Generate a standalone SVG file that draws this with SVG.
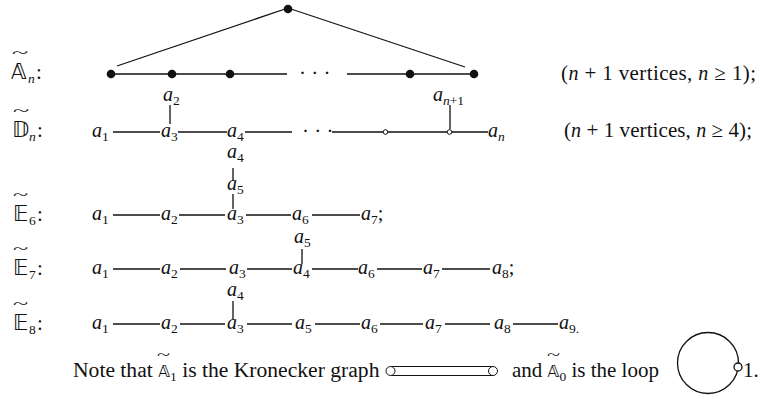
<svg xmlns="http://www.w3.org/2000/svg" width="758" height="395" viewBox="0 0 758 395">
<style>
text{font-family:"Liberation Serif","DejaVu Serif",serif;font-size:21px;fill:#111}
.v{font-style:italic;font-size:20px}
.s{font-size:13.5px;font-style:normal}
.si{font-size:13.5px;font-style:italic}
.ds{font-family:"DejaVu Sans","DejaVu Serif",serif;font-size:21px}
.dn{font-family:"DejaVu Sans","DejaVu Serif",serif;font-size:16px}
.tl{font-size:20px}
line{stroke:#111;stroke-width:1.3;fill:none}
.dot{fill:#111;stroke:none}
.oc{fill:#fff;stroke:#111;stroke-width:1}
</style>
<rect width="758" height="395" fill="#fff"/>

<!-- row labels -->
<g id="lab-A">
<text x="11" y="79" class="ds">𝔸</text><text transform="translate(12,58) scale(1.5,0.75)" class="tl">~</text><text x="28" y="83" class="si">n</text><text x="36" y="79">:</text>
</g>
<g id="lab-D">
<text x="12" y="137" class="ds">𝔻</text><text transform="translate(13,116) scale(1.5,0.75)" class="tl">~</text><text x="29" y="141" class="si">n</text><text x="37" y="137">:</text>
</g>
<g id="lab-E6">
<text x="13" y="221" class="ds">𝔼</text><text transform="translate(13,200) scale(1.4,0.75)" class="tl">~</text><text x="29" y="225" class="s">6</text><text x="37" y="221">:</text>
</g>
<g id="lab-E7">
<text x="13" y="275" class="ds">𝔼</text><text transform="translate(13,254) scale(1.4,0.75)" class="tl">~</text><text x="29" y="279" class="s">7</text><text x="37" y="275">:</text>
</g>
<g id="lab-E8">
<text x="13" y="330" class="ds">𝔼</text><text transform="translate(13,309) scale(1.4,0.75)" class="tl">~</text><text x="29" y="334" class="s">8</text><text x="37" y="330">:</text>
</g>

<!-- connectors -->
<g id="connectors">
<line x1="117" y1="66" x2="288" y2="8"/>
<line x1="288" y1="8" x2="465" y2="67"/>
<line x1="111" y1="74" x2="287" y2="74"/>
<line x1="347" y1="74" x2="474" y2="74"/>
<line x1="113" y1="132" x2="160" y2="132"/>
<line x1="178" y1="132" x2="227" y2="132"/>
<line x1="245" y1="132" x2="292" y2="132"/>
<line x1="332" y1="132" x2="383" y2="132"/>
<line x1="388" y1="132" x2="447" y2="132"/>
<line x1="452" y1="132" x2="488" y2="132"/>
<line x1="170" y1="105" x2="170" y2="124"/>
<line x1="450" y1="105" x2="450" y2="129"/>
<line x1="233" y1="168" x2="233" y2="181"/>
<line x1="233" y1="194" x2="233" y2="209"/>
<line x1="113" y1="215" x2="160" y2="215"/>
<line x1="179" y1="215" x2="225" y2="215"/>
<line x1="246" y1="215" x2="291" y2="215"/>
<line x1="312" y1="215" x2="360" y2="215"/>
<line x1="302" y1="249" x2="302" y2="264"/>
<line x1="113" y1="269" x2="160" y2="269"/>
<line x1="180" y1="269" x2="226" y2="269"/>
<line x1="247" y1="269" x2="292" y2="269"/>
<line x1="312" y1="269" x2="358" y2="269"/>
<line x1="377" y1="269" x2="422" y2="269"/>
<line x1="442" y1="269" x2="490" y2="269"/>
<line x1="233" y1="301" x2="233" y2="319"/>
<line x1="113" y1="324" x2="160" y2="324"/>
<line x1="180" y1="324" x2="225" y2="324"/>
<line x1="247" y1="324" x2="292" y2="324"/>
<line x1="315" y1="324" x2="360" y2="324"/>
<line x1="380" y1="324" x2="423" y2="324"/>
<line x1="445" y1="324" x2="490" y2="324"/>
<line x1="513" y1="324" x2="558" y2="324"/>
</g>

<!-- A_n nodes -->
<g id="A-top"><circle class="dot" cx="288" cy="9" r="4.3"/></g>
<g id="A-1"><circle class="dot" cx="111" cy="74" r="4.3"/></g>
<g id="A-2"><circle class="dot" cx="172" cy="74" r="4.3"/></g>
<g id="A-3"><circle class="dot" cx="230" cy="74" r="4.3"/></g>
<g id="A-dots"><text x="299" y="79.5">· · ·</text></g>
<g id="A-n"><circle class="dot" cx="410" cy="74" r="4.3"/></g>
<g id="A-n1"><circle class="dot" cx="474" cy="74" r="4.3"/></g>
<g id="A-note"><text x="561" y="80" textLength="195"><tspan>(</tspan><tspan class="v">n</tspan><tspan> + 1 vertices, </tspan><tspan class="v">n</tspan><tspan> ≥ 1);</tspan></text></g>

<!-- D_n nodes -->
<g id="D-a2"><text x="163" y="101" class="v">a<tspan class="s" dy="4">2</tspan></text></g>
<g id="D-an1"><text x="433" y="101" class="v">a<tspan class="si" dy="4">n</tspan><tspan class="s">+1</tspan></text></g>
<g id="D-a1"><text x="92" y="137" class="v">a<tspan class="s" dy="4">1</tspan></text></g>
<g id="D-a3"><text x="161" y="137" class="v">a<tspan class="s" dy="4">3</tspan></text></g>
<g id="D-a4"><text x="227" y="137" class="v">a<tspan class="s" dy="4">4</tspan></text></g>
<g id="D-dots"><text x="302" y="137.5">· · ·</text></g>
<g id="D-o1"><circle class="oc" cx="385.5" cy="132" r="2.3"/></g>
<g id="D-o2"><circle class="oc" cx="449.5" cy="132" r="2.3"/></g>
<g id="D-an"><text x="488" y="137" class="v">a<tspan class="si" dy="4">n</tspan></text></g>
<g id="D-note"><text x="564" y="137" textLength="188"><tspan>(</tspan><tspan class="v">n</tspan><tspan> + 1 vertices, </tspan><tspan class="v">n</tspan><tspan> ≥ 4);</tspan></text></g>

<!-- E6 nodes -->
<g id="E6-a4"><text x="227" y="158" class="v">a<tspan class="s" dy="4">4</tspan></text></g>
<g id="E6-a5"><text x="227" y="190" class="v">a<tspan class="s" dy="4">5</tspan></text></g>
<g id="E6-a1"><text x="92" y="220" class="v">a<tspan class="s" dy="4">1</tspan></text></g>
<g id="E6-a2"><text x="161" y="220" class="v">a<tspan class="s" dy="4">2</tspan></text></g>
<g id="E6-a3"><text x="227" y="220" class="v">a<tspan class="s" dy="4">3</tspan></text></g>
<g id="E6-a6"><text x="292" y="220" class="v">a<tspan class="s" dy="4">6</tspan></text></g>
<g id="E6-a7"><text x="361" y="220" class="v">a<tspan class="s" dy="4">7</tspan><tspan dy="-4" font-style="normal">;</tspan></text></g>

<!-- E7 nodes -->
<g id="E7-a5"><text x="294" y="243" class="v">a<tspan class="s" dy="4">5</tspan></text></g>
<g id="E7-a1"><text x="92" y="274" class="v">a<tspan class="s" dy="4">1</tspan></text></g>
<g id="E7-a2"><text x="161" y="274" class="v">a<tspan class="s" dy="4">2</tspan></text></g>
<g id="E7-a3"><text x="229" y="274" class="v">a<tspan class="s" dy="4">3</tspan></text></g>
<g id="E7-a4"><text x="293" y="274" class="v">a<tspan class="s" dy="4">4</tspan></text></g>
<g id="E7-a6"><text x="358" y="274" class="v">a<tspan class="s" dy="4">6</tspan></text></g>
<g id="E7-a7"><text x="423" y="274" class="v">a<tspan class="s" dy="4">7</tspan></text></g>
<g id="E7-a8"><text x="492" y="274" class="v">a<tspan class="s" dy="4">8</tspan><tspan dy="-4" font-style="normal">;</tspan></text></g>

<!-- E8 nodes -->
<g id="E8-a4"><text x="227" y="296" class="v">a<tspan class="s" dy="4">4</tspan></text></g>
<g id="E8-a1"><text x="92" y="329" class="v">a<tspan class="s" dy="4">1</tspan></text></g>
<g id="E8-a2"><text x="161" y="329" class="v">a<tspan class="s" dy="4">2</tspan></text></g>
<g id="E8-a3"><text x="227" y="329" class="v">a<tspan class="s" dy="4">3</tspan></text></g>
<g id="E8-a5"><text x="295" y="329" class="v">a<tspan class="s" dy="4">5</tspan></text></g>
<g id="E8-a6"><text x="361" y="329" class="v">a<tspan class="s" dy="4">6</tspan></text></g>
<g id="E8-a7"><text x="425" y="329" class="v">a<tspan class="s" dy="4">7</tspan></text></g>
<g id="E8-a8"><text x="494" y="329" class="v">a<tspan class="s" dy="4">8</tspan></text></g>
<g id="E8-a9"><text x="559" y="329" class="v">a<tspan class="s" dy="4">9.</tspan></text></g>

<!-- note line -->
<g id="note">
<text x="73" y="377" style="font-size:21.6px">Note that <tspan class="dn">𝔸</tspan><tspan class="s" dy="4">1</tspan><tspan dy="-4"> is the Kronecker graph</tspan></text>
<text transform="translate(157,360) scale(1.2,0.7)" class="tl">~</text>
</g>
<g id="kronecker">
<line x1="391" y1="366.5" x2="493" y2="366.5" style="stroke-width:1.1"/>
<line x1="391" y1="375.5" x2="493" y2="375.5" style="stroke-width:1.1"/>
<circle class="oc" cx="390.5" cy="371" r="4.5"/>
<circle class="oc" cx="493" cy="371" r="4.5"/>
</g>
<g id="note2">
<text x="512" y="377">and <tspan class="dn">𝔸</tspan><tspan class="s" dy="4">0</tspan><tspan dy="-4"> is the loop</tspan></text>
<text transform="translate(547,360) scale(1.2,0.7)" class="tl">~</text>
</g>
<g id="loop">
<circle cx="708" cy="363" r="30.5" style="fill:none;stroke:#111;stroke-width:1.3"/>
<circle class="oc" cx="738" cy="367" r="4" style="stroke-width:1.3"/>
<text x="743" y="377">1.</text>
</g>
</svg>
